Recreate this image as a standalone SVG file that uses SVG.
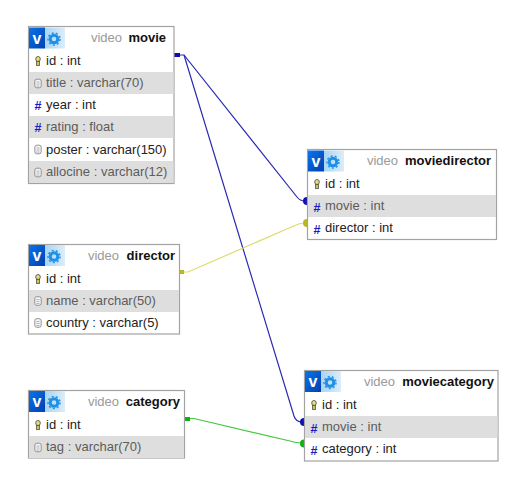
<svg xmlns="http://www.w3.org/2000/svg" width="525" height="485" viewBox="0 0 525 485">
<style>
text{font-family:"Liberation Sans",Arial,sans-serif;font-size:13px;fill:#222}
.box{fill:#fff;stroke:#a3a3a3;stroke-width:1.2}
.alt{fill:#dedede}
.db{fill:#9a9a9a;text-anchor:end}
.tn{font-weight:bold;fill:#111;text-anchor:end}
.gt{fill:#5c5c5c}
.v{font-weight:bold;font-size:16px;fill:#fff;text-anchor:middle}
.hash{font-weight:bold;font-size:12.500px;fill:#1a1ac8;text-anchor:middle}
.c{fill:none;stroke-width:1.200}
</style>
<defs>
<linearGradient id="vb" x1="0" x2="1" y1="0" y2="1"><stop offset="0" stop-color="#0a74ea"/><stop offset="1" stop-color="#0040b0"/></linearGradient>
<linearGradient id="lb" x1="0" x2="1" y1="0" y2="0"><stop offset="0" stop-color="#a9d4f4"/><stop offset="1" stop-color="#dcedfa"/></linearGradient>
<g id="icons">
<rect x="0" y="0" width="16" height="21" fill="url(#vb)"/>
<rect x="16" y="0" width="20" height="21" fill="url(#lb)"/>
<text class="v" x="8" y="16">v</text>
<circle cx="25" cy="11.500" r="3.800" fill="none" stroke="#1e90e6" stroke-width="3"/>
<circle cx="25" cy="11.500" r="6" fill="none" stroke="#1e90e6" stroke-width="1.400" stroke-dasharray="2 2.200"/>
</g>
<g id="key"><ellipse cx="0" cy="-2.500" rx="2.300" ry="2.500" fill="#e6e070" stroke="#555" stroke-width="0.900"/><rect x="-1.600" y="0" width="3.200" height="4" fill="#c9c25a" stroke="#555" stroke-width="0.800"/></g>
<g id="doc"><rect x="-3.200" y="-4.300" width="6.400" height="8.600" rx="2" fill="#f4f4f4" stroke="#888" stroke-width="0.900"/><path d="M-1.500-1.500h3M-1.500 0.500h3M-1.500 2.500h3" stroke="#999" stroke-width="0.700"/></g>
</defs>

<g id="connectors">
<path class="c" stroke="#2a2ab4" d="M175 55H184L297 197Q300 201 305 201"/>
<path class="c" stroke="#2a2ab4" d="M184 55L294 416Q296 422 302 422"/>
<rect x="174" y="53" width="6" height="4" fill="#1010b0"/>
<circle cx="307" cy="201" r="4" fill="#1010b0"/>
<circle cx="304" cy="422" r="4" fill="#1010b0"/>
<path class="c" stroke="#dcdc70" d="M180 272H188L296 225Q300 223 305 223"/>
<rect x="179" y="270" width="5" height="4" fill="#b8b820"/>
<circle cx="307" cy="223" r="4" fill="#b8b820"/>
<path class="c" stroke="#40c840" d="M185 418.500H194L290 441Q296 443 302 443"/>
<rect x="185" y="417" width="5" height="4" fill="#10b010"/>
<circle cx="304" cy="443.500" r="4" fill="#10b010"/>
</g>

<g id="movie">
<rect class="box" x="28.500" y="26.500" width="145.500" height="157"/>
<rect class="alt" x="29" y="72" width="144.500" height="22"/>
<rect class="alt" x="29" y="116" width="144.500" height="22"/>
<rect class="alt" x="29" y="161" width="144.500" height="22"/>
<use href="#icons" x="29" y="27.500"/>
<text class="db" x="122" y="42">video</text><text class="tn" x="166" y="42">movie</text>
<use href="#key" x="38" y="61.500"/><text x="46" y="65">id : int</text>
<use href="#doc" x="38" y="83.500"/><text class="gt" x="46" y="87">title : varchar(70)</text>
<text class="hash" x="38" y="110">#</text><text x="46" y="109">year : int</text>
<text class="hash" x="38" y="132">#</text><text class="gt" x="46" y="131">rating : float</text>
<use href="#doc" x="38" y="149.500"/><text x="46" y="154">poster : varchar(150)</text>
<use href="#doc" x="38" y="172.500"/><text class="gt" x="46" y="176">allocine : varchar(12)</text>
</g>

<g id="moviedirector">
<rect class="box" x="307.500" y="149.500" width="189" height="90"/>
<rect class="alt" x="308" y="195" width="188" height="22"/>
<use href="#icons" x="308" y="150.500"/>
<text class="db" x="398" y="165">video</text><text class="tn" x="491" y="165">moviedirector</text>
<use href="#key" x="317" y="184.500"/><text x="325" y="188">id : int</text>
<text class="hash" x="317" y="212">#</text><text class="gt" x="325" y="210">movie : int</text>
<text class="hash" x="317" y="234">#</text><text x="325" y="232">director : int</text>
</g>

<g id="director">
<rect class="box" x="28.500" y="244.500" width="151" height="89.500"/>
<rect class="alt" x="29" y="290" width="150" height="22"/>
<use href="#icons" x="29" y="245"/>
<text class="db" x="119" y="260">video</text><text class="tn" x="175" y="260">director</text>
<use href="#key" x="38" y="279.500"/><text x="46" y="283">id : int</text>
<use href="#doc" x="38" y="301"/><text class="gt" x="46" y="305">name : varchar(50)</text>
<use href="#doc" x="38" y="323"/><text x="46" y="327">country : varchar(5)</text>
</g>

<g id="category">
<rect class="box" x="28.500" y="390.500" width="156" height="67.500"/>
<rect class="alt" x="29" y="436" width="155" height="22"/>
<use href="#icons" x="29" y="391"/>
<text class="db" x="119" y="406">video</text><text class="tn" x="180" y="406">category</text>
<use href="#key" x="38" y="425.500"/><text x="46" y="429">id : int</text>
<use href="#doc" x="38" y="447.500"/><text class="gt" x="46" y="451">tag : varchar(70)</text>
</g>

<g id="moviecategory">
<rect class="box" x="304.500" y="370.500" width="193.500" height="90.500"/>
<rect class="alt" x="305" y="416" width="192.500" height="22"/>
<use href="#icons" x="305" y="371"/>
<text class="db" x="395" y="386">video</text><text class="tn" x="494" y="386">moviecategory</text>
<use href="#key" x="314" y="405.500"/><text x="322" y="409">id : int</text>
<text class="hash" x="314" y="433">#</text><text class="gt" x="322" y="431">movie : int</text>
<text class="hash" x="314" y="455">#</text><text x="322" y="453">category : int</text>
</g>
</svg>
